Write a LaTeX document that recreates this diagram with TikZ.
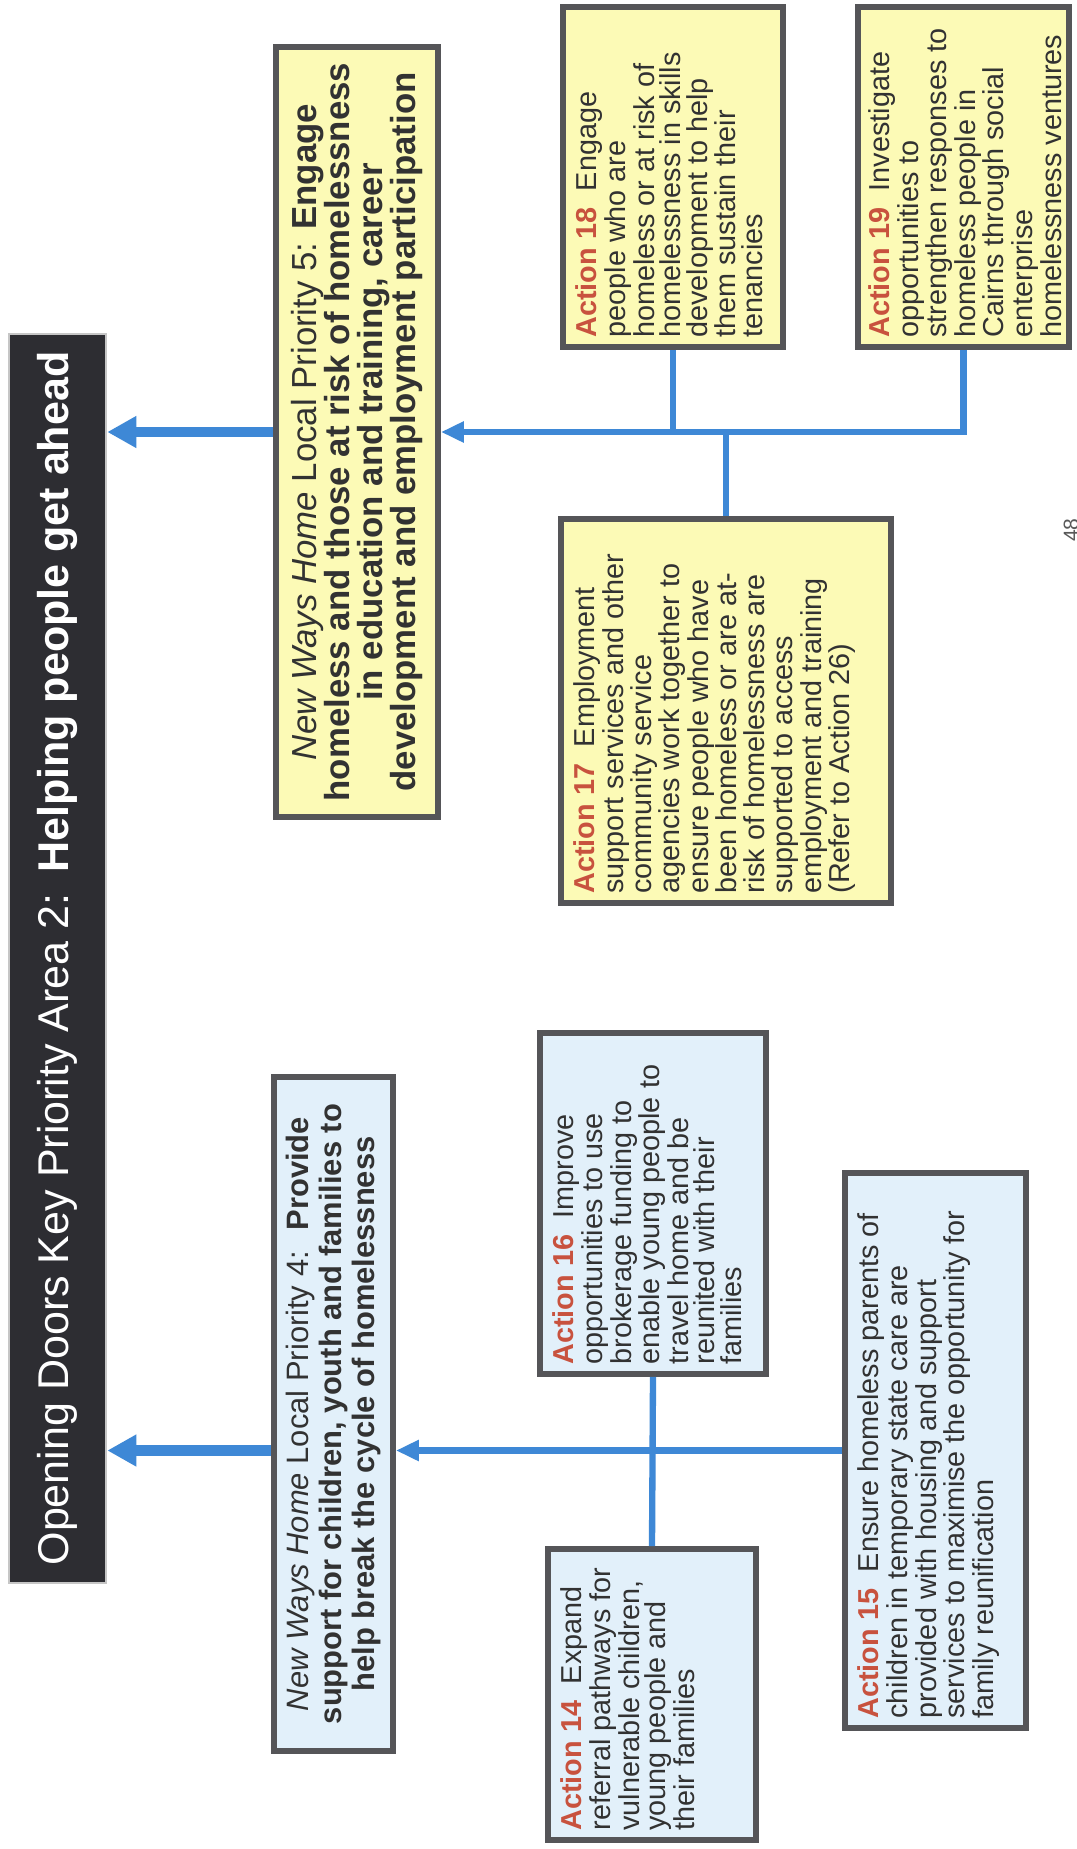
\documentclass[tikz,border=0pt]{standalone}
\usepackage{fontspec}
\setmainfont{Liberation Sans}
\usepackage{xcolor}
\usetikzlibrary{arrows.meta}

\definecolor{boxgray}{RGB}{85,85,88}
\definecolor{paleyellow}{RGB}{252,250,182}
\definecolor{paleblue}{RGB}{226,240,250}
\definecolor{titlegray}{RGB}{45,45,50}
\definecolor{linkblue}{RGB}{62,136,214}
\definecolor{actred}{RGB}{200,82,62}
\definecolor{bodytext}{RGB}{50,50,50}

\setlength{\lineskiplimit}{-30pt}
\newcommand{\titlefont}{\fontsize{24.5}{28}\selectfont}
\newcommand{\lpfivefont}{\fontsize{19.8}{18.8}\selectfont}
\newcommand{\lpfourfont}{\fontsize{17.6}{18.8}\selectfont}
\newcommand{\actfont}{\fontsize{16.4}{15.1}\selectfont}
\newcommand{\act}[1]{\textcolor{actred}{\textbf{Action #1}}\hspace{0.3em}}
% text turned to read upwards: along, across, text
\newcommand{\actblock}[3]{\rotatebox{90}{\parbox[c][#2][t]{#1}{\actfont\raggedright #3}}}
\newcommand{\lpblock}[3]{\rotatebox{90}{\parbox{#1}{#2\centering #3}}}

\begin{document}
\begin{tikzpicture}[x=0.02cm, y=-0.02cm]
% Define styles
\tikzstyle{titlebar} = [rectangle, draw=gray!45, line width=1.5pt, fill=titlegray, text=white, inner sep=0pt]
\tikzstyle{prioritybox} = [rectangle, draw=boxgray, line width=3.4pt, inner sep=0pt, text=bodytext]
\tikzstyle{yellowbox} = [prioritybox, fill=paleyellow]
\tikzstyle{bluebox} = [prioritybox, fill=paleblue]
\tikzstyle{link} = [draw=linkblue, line width=3.6pt]
\tikzstyle{linkarrow} = [link, -{Triangle[length=4.6mm, width=4mm]}]
\tikzstyle{mainarrow} = [draw=linkblue, line width=6.2pt, -{Triangle[length=5.8mm, width=6mm]}]

\path[fill=white] (0,0) rectangle (1076,1849);
\useasboundingbox (0,0) rectangle (1076,1849);

% Draw nodes
\node [titlebar, minimum width=1.94cm, minimum height=24.98cm] (title) at (57.5,958.5)
  {\rotatebox{90}{\titlefont Opening Doors Key Priority Area 2:\hspace{0.1em} \textbf{Helping people get ahead}}};

\node [yellowbox, minimum width=3.24cm, minimum height=15.40cm] (lp5) at (357,432)
  {\lpblock{15.3cm}{\lpfivefont}{\textit{New Ways Home} Local Priority 5: \textbf{Engage}\\
   \textbf{homeless and those at risk of homelessness}\\
   \textbf{in education and training, career}\\
   \textbf{development and employment participation}}};
\node [bluebox, minimum width=2.38cm, minimum height=13.48cm] (lp4) at (333.5,1414)
  {\lpblock{13.2cm}{\lpfourfont}{\textit{New Ways Home} Local Priority 4:\hspace{0.3em} \textbf{Provide}\\
   \textbf{support for children, youth and families to}\\
   \textbf{help break the cycle of homelessness}}};

\node [yellowbox, minimum width=4.40cm, minimum height=6.80cm] (a18) at (673,177)
  {\actblock{6.42cm}{3.88cm}{\act{18} Engage\\ people who are\\ homeless or at risk of\\
   homelessness in skills\\ development to help\\ them sustain their\\ tenancies}};
\node [yellowbox, minimum width=4.22cm, minimum height=6.80cm] (a19) at (963.5,177)
  {\actblock{6.42cm}{3.80cm}{\act{19} Investigate\\ opportunities to\\ strengthen responses to\\
   homeless people in\\ Cairns through social\\ enterprise\\ homelessness ventures}};
\node [yellowbox, minimum width=6.60cm, minimum height=7.68cm] (a17) at (726,711)
  {\actblock{7.30cm}{6.08cm}{\fontsize{16.4}{16.1}\selectfont
   \act{17} Employment\\ support services and other\\ community service\\
   agencies work together to\\ ensure people who have\\ been homeless or are at-\\
   risk of homelessness are\\ supported to access\\ employment and training\\ (Refer to Action 26)}};

\node [bluebox, minimum width=4.52cm, minimum height=6.82cm] (a16) at (653,1203.5)
  {\actblock{6.44cm}{4.00cm}{\act{16} Improve\\ opportunities to use\\ brokerage funding to\\
   enable young people to\\ travel home and be\\ reunited with their\\ families}};
\node [bluebox, minimum width=4.16cm, minimum height=5.82cm] (a14) at (652,1694.5)
  {\actblock{5.44cm}{3.64cm}{\act{14} Expand\\ referral pathways for\\ vulnerable children,\\
   young people and\\ their families}};
\node [bluebox, minimum width=3.62cm, minimum height=11.10cm] (a15) at (935.5,1450.5)
  {\actblock{10.72cm}{3.10cm}{\act{15} Ensure homeless parents of\\ children in temporary state care are\\
   provided with housing and support\\ services to maximise the opportunity for\\ family reunification}};

\node [rotate=90, text=gray!70!black, font=\fontsize{12}{12}\selectfont] (pagenum) at (1071,530) {48};

% Draw arrows
\draw [linkarrow] (a19.south) |- (lp5.east);
\draw [link] (a18.south) -- (a18.south |- lp5.east);
\draw [link] (a17.north) -- (a17.north |- lp5.east);
\draw [linkarrow] (a15.west) -- (a15.west -| lp4.east);
\draw [link] (a16.south) -- (a14.north);
\draw [mainarrow] (lp5.west) -- (lp5.west -| title.east);
\draw [mainarrow] (a15.west -| lp4.west) -- (a15.west -| title.east);
\end{tikzpicture}
\end{document}
